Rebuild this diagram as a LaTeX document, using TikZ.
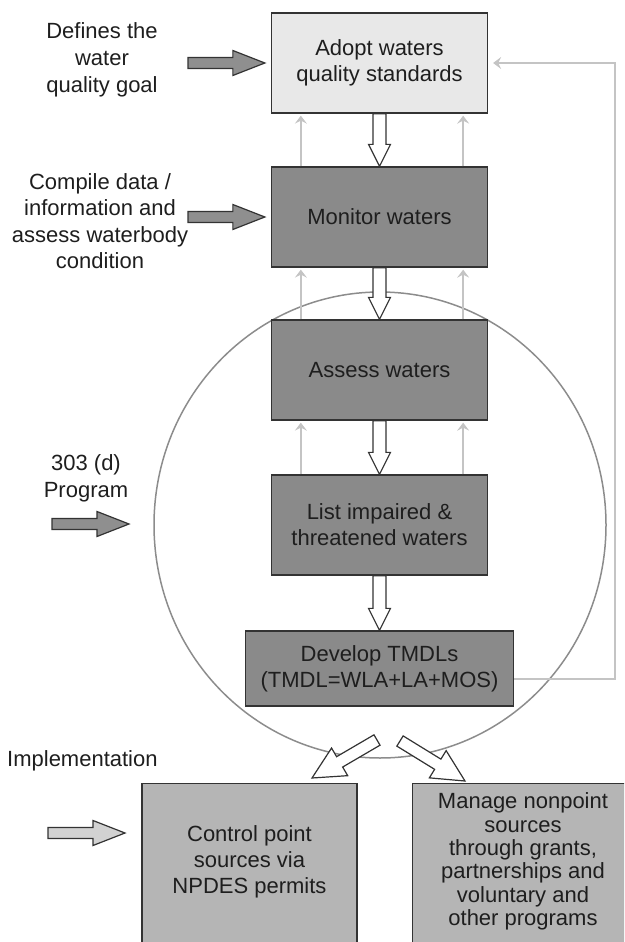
\documentclass[tikz,border=0pt]{standalone}
\usepackage{fontspec}
\setmainfont{Liberation Sans}
\usetikzlibrary{calc,arrows.meta}
\definecolor{boxdark}{HTML}{8A8A8A}
\definecolor{boxlight}{HTML}{E8E8E8}
\definecolor{boxmid}{HTML}{B5B5B5}
\definecolor{edgec}{HTML}{333333}
\definecolor{thinc}{HTML}{C4C4C4}
\definecolor{circc}{HTML}{8C8C8C}
\definecolor{inarr}{HTML}{8F8F8F}
\definecolor{inarrl}{HTML}{D2D2D2}
\definecolor{txtc}{HTML}{1E1E1E}
% #1 style, #2 start coord name, #3 tip coord name, #4 shaft half width, #5 head half width, #6 head length (numbers, pt)
\newcommand\fatarrow[6]{%
  \coordinate (fac) at ($(#3)!#6pt!(#2)$);
  \draw[#1] ($(#2)!#4pt!90:(#3)$) -- ($(fac)!#4pt!90:(#3)$) -- ($(fac)!#5pt!90:(#3)$) -- (#3)
    -- ($(fac)!#5pt!-90:(#3)$) -- ($(fac)!#4pt!-90:(#3)$) -- ($(#2)!#4pt!-90:(#3)$) -- cycle;
}
\begin{document}
\begin{tikzpicture}[x=1pt,y=1pt,
  box/.style={draw=edgec, line width=1.3pt, minimum width=216pt, minimum height=100pt,
    inner sep=0pt, align=center, text=txtc, font=\fontsize{22}{26}\selectfont},
  lbl/.style={align=center, text=txtc, font=\fontsize{22}{26.5}\selectfont, inner sep=0pt},
  fat/.style={draw=edgec, line width=1.2pt, fill=white, line join=miter},
  inarrow/.style={draw=edgec, line width=1.2pt, fill=inarr, line join=miter},
  inarrowl/.style={draw=edgec, line width=1.2pt, fill=inarrl, line join=miter},
  thinarr/.style={draw=thinc, line width=1.5pt, -{Stealth[length=8pt,width=12pt,inset=3pt]}},
  fb/.style={draw=thinc, line width=1.5pt, -{Stealth[length=8pt,width=12pt,inset=3pt]}},
]
\useasboundingbox (0,0) rectangle (624,-942);
\clip (0,0) rectangle (624,-942);

% circle (303(d) program)
\draw[circc, line width=1.5pt] (380,-525) ellipse [x radius=226, y radius=233];

% main boxes
\node[box, fill=boxlight] (adopt) at (379.5,-63) {Adopt waters\\quality standards};
\node[box, fill=boxdark] (monitor) at (379.5,-217) {Monitor waters};
\node[box, fill=boxdark] (assess) at (379.5,-370) {Assess waters};
\node[box, fill=boxdark] (list) at (379.5,-525) {List impaired \&\\threatened waters};
\node[box, fill=boxdark, minimum width=268pt, minimum height=75pt] (develop) at (379.5,-668.5)
  {Develop TMDLs\\(TMDL=WLA+LA+MOS)};

% bottom boxes (cut by the lower edge)
\node[box, fill=boxmid, anchor=north, minimum width=215pt, minimum height=190pt] (ctrl) at (249.5,-783) {};
\node[lbl, font=\fontsize{22}{26}\selectfont] (ctrlt) at ($(ctrl.north)+(0,-79)$)
  {Control point\\sources via\\NPDES permits};
\node[box, fill=boxmid, anchor=north west, minimum width=230pt, minimum height=190pt] (mng) at (412,-783) {};
\node[lbl, font=\fontsize{22}{23.4}\selectfont] (mngt) at (523,-861.5)
  {Manage nonpoint\\sources\\through grants,\\partnerships and\\voluntary and\\other programs};

% side labels
\node[lbl, font=\fontsize{22}{27}\selectfont] (deflbl) at (102,-60) {Defines the\\water\\quality goal};
\node[lbl] (complbl) at (100,-221) {Compile data /\\information and\\assess waterbody\\condition};
\node[lbl, font=\fontsize{22}{27}\selectfont] (prglbl) at (86,-478.5) {303 (d)\\Program};
\node[lbl, anchor=west] (implbl) at (7,-761) {Implementation};

% side input arrows
\coordinate (a1s) at (188,-63);
\coordinate (a1e) at ($(adopt.west)+(-6,0)$);
\fatarrow{inarrow}{a1s}{a1e}{5.5}{12.5}{32}
\coordinate (a2s) at (188,-217);
\coordinate (a2e) at ($(monitor.west)+(-6,0)$);
\fatarrow{inarrow}{a2s}{a2e}{5.5}{12.5}{32}
\coordinate (a3s) at (52,-524);
\coordinate (a3e) at (129,-524);
\fatarrow{inarrow}{a3s}{a3e}{5.5}{12.5}{32}
\coordinate (a4s) at (48,-833);
\coordinate (a4e) at (125,-833);
\fatarrow{inarrowl}{a4s}{a4e}{5.5}{12.5}{32}

% thin feedback arrows between boxes
\draw[thinarr] ($(monitor.north west)+(30,0)$) -- ($(adopt.south west)+(30,-2)$);
\draw[thinarr] ($(monitor.north east)+(-25,0)$) -- ($(adopt.south east)+(-25,-2)$);
\draw[thinarr] ($(assess.north west)+(30,0)$) -- ($(monitor.south west)+(30,-2)$);
\draw[thinarr] ($(assess.north east)+(-25,0)$) -- ($(monitor.south east)+(-25,-2)$);
\draw[thinarr] ($(list.north west)+(30,0)$) -- ($(assess.south west)+(30,-2)$);
\draw[thinarr] ($(list.north east)+(-25,0)$) -- ($(assess.south east)+(-25,-2)$);

% big feedback loop
\coordinate (fbtop) at (615,-63);
\draw[fb] ($(develop.east)+(0,-10.5)$) -| (fbtop) -- ($(adopt.east)+(5,0)$);

% fat white flow arrows
\coordinate (f1s) at (adopt.south);   \coordinate (f1e) at (monitor.north);
\fatarrow{fat}{f1s}{f1e}{6.5}{11}{22}
\coordinate (f2s) at (monitor.south); \coordinate (f2e) at (assess.north);
\fatarrow{fat}{f2s}{f2e}{6.5}{11}{22}
\coordinate (f3s) at (assess.south);  \coordinate (f3e) at (list.north);
\fatarrow{fat}{f3s}{f3e}{6.5}{11}{22}
\coordinate (f4s) at (list.south);    \coordinate (f4e) at (develop.north);
\fatarrow{fat}{f4s}{f4e}{6.5}{11}{22}

% diagonal arrows to implementation boxes
\coordinate (d1s) at (377,-740); \coordinate (d1e) at (312,-778);
\fatarrow{fat}{d1s}{d1e}{6}{16}{32}
\coordinate (d2s) at (400,-741); \coordinate (d2e) at (465,-781);
\fatarrow{fat}{d2s}{d2e}{6}{16}{32}
\end{tikzpicture}
\end{document}
